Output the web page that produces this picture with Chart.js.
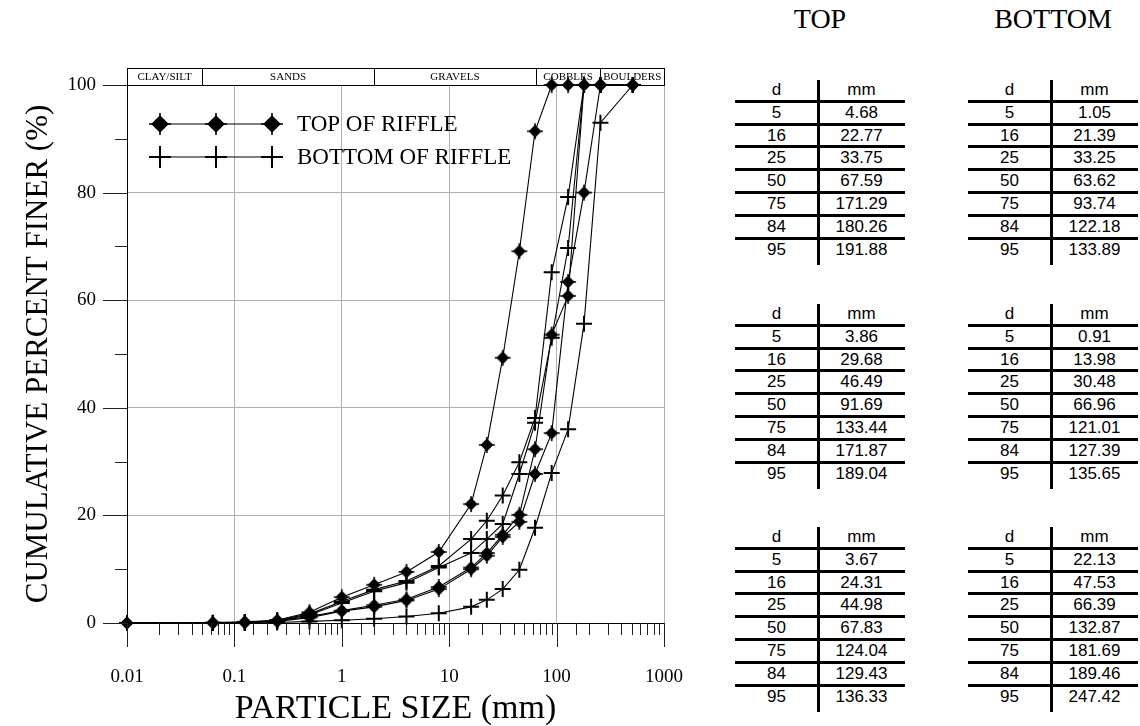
<!DOCTYPE html>
<html>
<head>
<meta charset="utf-8">
<script src="https://cdn.jsdelivr.net/npm/chart.js@4.4.1/dist/chart.umd.min.js"></script>
<style>
html, body { margin: 0; padding: 0; background: #fff; }
body { width: 1140px; height: 726px; position: relative; overflow: hidden; font-family: 'Liberation Sans', Arial, sans-serif; }
#wrap { position: absolute; left: 0; top: 0; width: 700px; height: 726px; }
.head { position: absolute; top: 4px; width: 170px; text-align: center; font: 28px/30px 'Liberation Serif', serif; }
.tbl { position: absolute; width: 170px; }
.row { height: 22.8px; box-sizing: border-box; border-bottom: 3px solid #000; display: flex; font-size: 17px; }
.row.last { border-bottom: none; }
.row span { display: block; text-align: center; line-height: 20px; }
.c1 { width: 83px; }
.c2 { flex: 1; }
.vbar { position: absolute; width: 3px; background: #000; }
</style>
</head>
<body>
<div id="wrap"><canvas id="chart"></canvas></div>
<div class="head" style="left:735px">TOP</div>
<div class="head" style="left:968px">BOTTOM</div>
<div id="tables"></div>
<script>
// sieve sizes (mm) and cumulative percent finer for each sample
var sieveSizes = [0.01, 0.063, 0.125, 0.25, 0.5, 1, 2, 4, 8, 16, 22.4, 31.5, 45, 63, 90, 128, 180, 256, 512];
var topRiffle1 = [0, 0.1, 0.2, 0.5, 2.0, 4.8, 7.1, 9.5, 13.2, 22.1, 33.1, 49.3, 69.1, 91.4, 100, 100, 100, 100, 100];
var topRiffle2 = [0, 0, 0.1, 0.3, 1.0, 2.2, 3.0, 4.2, 6.3, 10.0, 12.5, 16.0, 18.8, 27.7, 35.3, 63.4, 80, 100, 100];
var topRiffle3 = [0, 0, 0.1, 0.4, 1.2, 2.3, 3.3, 4.4, 6.7, 10.3, 13.0, 16.4, 20.1, 32.3, 53.6, 60.8, 100, 100, 100];
var bottomRiffle1 = [0, 0, 0.1, 0.5, 1.7, 4.0, 6.2, 7.8, 10.6, 15.6, 19.0, 23.7, 29.9, 38.1, 65.2, 79.2, 100, 100, 100];
var bottomRiffle2 = [0, 0, 0.1, 0.4, 1.5, 3.7, 5.9, 7.5, 10.3, 13.0, 15.6, 18.4, 27.7, 37.2, 53.0, 69.7, 100, 100, 100];
var bottomRiffle3 = [0, 0, 0, 0.1, 0.3, 0.5, 0.8, 1.2, 1.8, 3.0, 4.3, 6.3, 9.9, 17.7, 27.9, 36.0, 55.6, 93.0, 100];

var xTickLabels = ['0.01', '0.1', '1', '10', '100', '1000'];
var yTickLabels = ['0', '20', '40', '60', '80', '100'];

var bandEdges = [0.01, 0.05, 2, 64, 256, 1000];
var bandNames = ['CLAY/SILT', 'SANDS', 'GRAVELS', 'COBBLES', 'BOULDERS'];

var legendLabels = ['TOP OF RIFFLE', 'BOTTOM OF RIFFLE'];

// d-percentile tables
var dLevels = [5, 16, 25, 50, 75, 84, 95];
var topTable1 = [4.68, 22.77, 33.75, 67.59, 171.29, 180.26, 191.88];
var topTable2 = [3.86, 29.68, 46.49, 91.69, 133.44, 171.87, 189.04];
var topTable3 = [3.67, 24.31, 44.98, 67.83, 124.04, 129.43, 136.33];
var bottomTable1 = [1.05, 21.39, 33.25, 63.62, 93.74, 122.18, 133.89];
var bottomTable2 = [0.91, 13.98, 30.48, 66.96, 121.01, 127.39, 135.65];
var bottomTable3 = [22.13, 47.53, 66.39, 132.87, 181.69, 189.46, 247.42];

var serif = "'Liberation Serif', 'Times New Roman', serif";

// tables on the right
function buildTable(values, left, top) {
	var box = document.createElement('div');
	box.className = 'tbl';
	box.style.left = left + 'px';
	box.style.top = top + 'px';
	var html = '<div class="row"><span class="c1">d</span><span class="c2">mm</span></div>';
	dLevels.forEach(function(d, i) {
		html += '<div class="row' + (i === dLevels.length - 1 ? ' last' : '') + '"><span class="c1">' + d +
			'</span><span class="c2">' + values[i].toFixed(2) + '</span></div>';
	});
	box.innerHTML = html;
	document.getElementById('tables').appendChild(box);
	var bar = document.createElement('div');
	bar.className = 'vbar';
	bar.style.left = (left + 82) + 'px';
	bar.style.top = top + 'px';
	bar.style.height = '185px';
	document.getElementById('tables').appendChild(bar);
}
buildTable(topTable1, 735, 80);
buildTable(bottomTable1, 968, 80);
buildTable(topTable2, 735, 304);
buildTable(bottomTable2, 968, 304);
buildTable(topTable3, 735, 527);
buildTable(bottomTable3, 968, 527);

// marker for the top-of-riffle series
function topMarker(r) {
	var c = document.createElement('canvas');
	var s = Math.ceil(r * 2 + 4);
	c.width = s; c.height = s;
	var g = c.getContext('2d');
	var m = s / 2;
	var k = r * 0.8;
	g.fillStyle = '#000';
	g.strokeStyle = '#000';
	g.beginPath();
	g.arc(m, m, r * 0.55, 0, Math.PI * 2);
	g.fill();
	g.beginPath();
	g.moveTo(m, m - k); g.lineTo(m + k, m); g.lineTo(m, m + k); g.lineTo(m - k, m);
	g.closePath();
	g.fill();
	g.lineWidth = 1.6;
	g.beginPath();
	g.moveTo(m - r, m); g.lineTo(m + r, m);
	g.moveTo(m, m - r); g.lineTo(m, m + r);
	g.stroke();
	return c;
}
var topPoint = topMarker(8);
var topLegendPoint = topMarker(11);

function isDecade(v) {
	var l = Math.log10(v);
	return Math.abs(l - Math.round(l)) < 1e-6;
}

function series(label, values, style) {
	return {
		label: label,
		data: sieveSizes.map(function(s, i) { return {x: s, y: values[i]}; }),
		borderColor: '#000',
		backgroundColor: '#000',
		borderWidth: 1.1,
		pointStyle: style,
		pointRadius: 8,
		pointBorderWidth: 2,
		pointBorderColor: '#000',
		tension: 0,
		clip: false
	};
}

var bandPlugin = {
	id: 'bands',
	beforeDatasetsDraw: function(chart) {
		var ctx = chart.ctx, a = chart.chartArea, xs = chart.scales.x;
		var h = 17, top = a.top - h;
		ctx.save();
		ctx.strokeStyle = '#000';
		ctx.lineWidth = 1;
		ctx.strokeRect(a.left + 0.5, top + 0.5, a.right - a.left, h);
		ctx.font = '11px ' + serif;
		ctx.fillStyle = '#000';
		ctx.textAlign = 'center';
		ctx.textBaseline = 'middle';
		for (var i = 0; i < bandNames.length; i++) {
			var x0 = xs.getPixelForValue(bandEdges[i]);
			var x1 = xs.getPixelForValue(bandEdges[i + 1]);
			if (i > 0) {
				ctx.beginPath();
				ctx.moveTo(Math.round(x0) + 0.5, top);
				ctx.lineTo(Math.round(x0) + 0.5, a.top);
				ctx.stroke();
			}
			ctx.fillText(bandNames[i], (x0 + x1) / 2, top + h / 2 + 1);
		}
		ctx.restore();
	}
};

var tickPlugin = {
	id: 'tickMarks',
	afterDraw: function(chart) {
		var ctx = chart.ctx, a = chart.chartArea, xs = chart.scales.x, ys = chart.scales.y;
		ctx.save();
		ctx.strokeStyle = '#222';
		ctx.lineWidth = 1;
		ctx.beginPath();
		xs.ticks.forEach(function(t) {
			var px = Math.round(xs.getPixelForValue(t.value)) + 0.5;
			var len = isDecade(t.value) ? 24 : 12;
			ctx.moveTo(px, a.bottom);
			ctx.lineTo(px, a.bottom + len);
		});
		ys.ticks.forEach(function(t) {
			var py = Math.round(ys.getPixelForValue(t.value)) + 0.5;
			var len = t.value % 20 === 0 ? 24 : 12;
			ctx.moveTo(a.left, py);
			ctx.lineTo(a.left - len, py);
		});
		ctx.stroke();
		ctx.restore();
	}
};

var legendPlugin = {
	id: 'riffleLegend',
	afterDraw: function(chart) {
		var ctx = chart.ctx;
		var xs = [160, 216, 272];
		var rows = [124, 157];
		ctx.save();
		ctx.strokeStyle = '#000';
		ctx.fillStyle = '#000';
		rows.forEach(function(y, r) {
			ctx.lineWidth = 1.2;
			ctx.beginPath();
			ctx.moveTo(xs[0], y); ctx.lineTo(xs[2], y);
			ctx.stroke();
			xs.forEach(function(x) {
				if (r === 0) {
					ctx.drawImage(topLegendPoint, x - topLegendPoint.width / 2, y - topLegendPoint.height / 2);
				} else {
					ctx.lineWidth = 2;
					ctx.beginPath();
					ctx.moveTo(x - 11, y); ctx.lineTo(x + 11, y);
					ctx.moveTo(x, y - 11); ctx.lineTo(x, y + 11);
					ctx.stroke();
				}
			});
			ctx.font = '23px ' + serif;
			ctx.textAlign = 'left';
			ctx.textBaseline = 'middle';
			ctx.fillText(legendLabels[r], 297, y + 1);
		});
		ctx.restore();
	}
};

new Chart(document.getElementById('chart'), {
	type: 'line',
	data: {
		datasets: [
			series('TOP OF RIFFLE', topRiffle1, topPoint),
			series('TOP OF RIFFLE', topRiffle2, topPoint),
			series('TOP OF RIFFLE', topRiffle3, topPoint),
			series('BOTTOM OF RIFFLE', bottomRiffle1, 'cross'),
			series('BOTTOM OF RIFFLE', bottomRiffle2, 'cross'),
			series('BOTTOM OF RIFFLE', bottomRiffle3, 'cross')
		]
	},
	options: {
		responsive: true,
		maintainAspectRatio: false,
		animation: false,
		events: [],
		layout: { padding: { top: 85, right: 36, left: 0, bottom: 0 } },
		plugins: { legend: { display: false }, tooltip: { enabled: false } },
		scales: {
			x: {
				type: 'logarithmic',
				min: 0.01,
				max: 1000,
				afterFit: function(s) { s.height = 103; },
				border: { display: true, color: '#000', width: 1 },
				grid: {
					drawTicks: false,
					color: function(c) { return c.tick && isDecade(c.tick.value) ? '#b0b0b0' : 'rgba(0,0,0,0)'; },
					lineWidth: 1
				},
				ticks: {
					autoSkip: false,
					maxRotation: 0,
					padding: 4,
					color: '#000',
					font: { family: serif, size: 19, lineHeight: '100px' },
					callback: function(v) {
						var s = String(+Number(v).toPrecision(3));
						return xTickLabels.indexOf(s) >= 0 ? s : '';
					}
				},
				title: {
					display: true,
					text: 'PARTICLE SIZE (mm)',
					color: '#000',
					font: { family: serif, size: 34, lineHeight: 1 },
					padding: { top: 0, bottom: 0 }
				}
			},
			y: {
				min: 0,
				max: 100,
				afterFit: function(s) { s.width = 127; },
				border: { display: true, color: '#000', width: 1 },
				grid: {
					drawTicks: false,
					color: function(c) { return c.tick && c.tick.value % 20 === 0 ? '#b0b0b0' : 'rgba(0,0,0,0)'; }
				},
				ticks: {
					stepSize: 10,
					autoSkip: false,
					padding: 31,
					color: '#000',
					font: { family: serif, size: 19 },
					callback: function(v) {
						var s = String(v);
						return yTickLabels.indexOf(s) >= 0 ? s : '';
					}
				},
				title: {
					display: true,
					text: 'CUMULATIVE PERCENT FINER (%)',
					color: '#000',
					font: { family: serif, size: 31, lineHeight: 1 },
					padding: { top: 23, bottom: 0 }
				}
			}
		}
	},
	plugins: [bandPlugin, tickPlugin, legendPlugin]
});
</script>
</body>
</html>
